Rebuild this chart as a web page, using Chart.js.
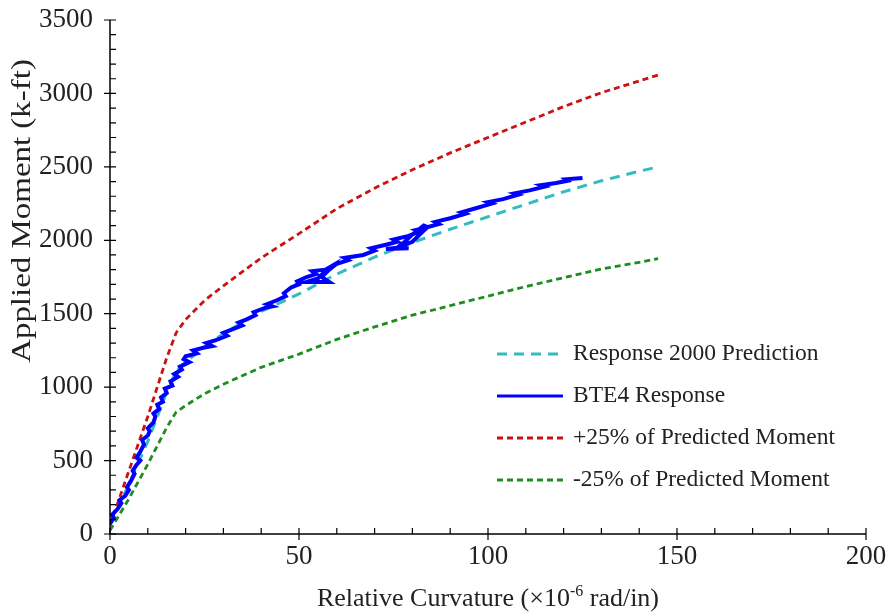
<!DOCTYPE html>
<html>
<head>
<meta charset="utf-8">
<script src="https://cdn.jsdelivr.net/npm/chart.js@4.4.1/dist/chart.umd.min.js"></script>
<style>
  html, body { margin: 0; padding: 0; background: #fff; }
  #wrap { width: 889px; height: 616px; position: relative; }
</style>
</head>
<body>
<div id="wrap"><canvas id="momentChart"></canvas></div>
<script>
// Curvature values (x10^-6 rad/in) for the predicted curves
var predCurv = [0, 5, 10, 15, 17.5, 20, 25, 30, 40, 50, 60, 70, 80, 90, 100, 110, 120, 130, 140, 145];
// Response 2000 prediction, moment in k-ft
var predMoment = [60, 340, 630, 965, 1110, 1170, 1275, 1365, 1515, 1635, 1770, 1885, 1985, 2075, 2160, 2245, 2330, 2405, 2470, 2500];
// +25% and -25% of predicted moment
var upperMoment = [60, 430, 800, 1200, 1370, 1460, 1590, 1690, 1880, 2045, 2215, 2355, 2480, 2595, 2700, 2805, 2910, 3005, 3085, 3125];
var lowerMoment = [25, 240, 475, 725, 830, 875, 955, 1020, 1135, 1225, 1325, 1410, 1490, 1555, 1620, 1685, 1745, 1805, 1850, 1875];

// Measured BTE4 response (curvature, moment)
var bteCurv = [0, 1, 0.5, 2, 3, 2.5, 4, 5, 4.5, 5.5, 6.5, 6, 7, 8, 7, 8, 9, 8.5, 10, 10.5, 10, 11.5, 12, 11.5, 13, 12.5, 14, 13.5, 15, 14.5, 16.5, 16, 18, 17, 19, 18.5, 21, 19.5, 20, 23, 22, 25, 27, 25.5, 28,
    31, 30, 33, 35, 34, 36, 38.5, 38, 41, 43, 41.5, 44, 46.5, 46, 48, 50, 49.5, 52, 54.5, 53.5, 57, 58, 55, 52, 58, 56, 58, 60, 63, 62, 67, 70, 69, 73, 76, 75, 79, 82, 81, 84, 83,
    80, 78, 76, 73, 79, 76, 80, 82, 84, 87, 86, 90, 94, 93, 97, 101, 100, 104, 108, 107, 111, 115, 114, 118, 121, 120.5, 125];
var bteMoment = [70, 110, 130, 170, 210, 230, 260, 300, 320, 360, 410, 430, 470, 500, 520, 560, 610, 640, 670, 700, 720, 760, 800, 820, 850, 880, 900, 930, 960, 990, 1010, 1040, 1070, 1090, 1120, 1140, 1170, 1190, 1210, 1230, 1250, 1270, 1280, 1300, 1320,
    1350, 1370, 1400, 1420, 1440, 1460, 1490, 1510, 1540, 1550, 1565, 1590, 1620, 1640, 1680, 1700, 1720, 1750, 1770, 1790, 1800, 1815, 1740, 1716, 1716, 1750, 1800, 1840, 1865, 1880, 1900, 1930, 1945, 1970, 1990, 2005, 2030, 2060, 2070, 2090, 2100,
    2040, 1990, 1950, 1940, 1945, 1950, 1990, 2040, 2090, 2110, 2125, 2150, 2180, 2190, 2220, 2250, 2260, 2280, 2310, 2320, 2340, 2365, 2375, 2390, 2405, 2415, 2424];

var xTicks = [0, 50, 100, 150, 200];
var yTicks = [0, 500, 1000, 1500, 2000, 2500, 3000, 3500];

var seriesNames = ["Response 2000 Prediction", "BTE4 Response", "+25% of Predicted Moment", "-25% of Predicted Moment"];

function toPoints(xs, ys) {
    return xs.map(function (x, i) { return { x: x, y: ys[i] }; });
}

var serif = "'Liberation Serif', 'Times New Roman', serif";

// Draws the axis lines, tick marks, axis titles and the legend box inside the plot
var decorations = {
    id: "decorations",
    afterDraw: function (chart) {
        var ctx = chart.ctx;
        var xs = chart.scales.x, ys = chart.scales.y;
        var a = chart.chartArea;
        ctx.save();
        ctx.strokeStyle = "#000";
        ctx.lineWidth = 1.5;
        ctx.beginPath();
        ctx.moveTo(a.left, a.top);
        ctx.lineTo(a.left, a.bottom);
        ctx.lineTo(a.right, a.bottom);
        ctx.stroke();

        ctx.lineWidth = 1.2;
        ctx.beginPath();
        for (var v = 0; v <= 200; v += 10) {
            var px = xs.getPixelForValue(v);
            var major = v % 50 === 0;
            ctx.moveTo(px, a.bottom + (major ? 6 : 0));
            ctx.lineTo(px, a.bottom - 6);
        }
        for (var m = 0; m <= 3500; m += 100) {
            var py = ys.getPixelForValue(m);
            var majorY = m % 500 === 0;
            ctx.moveTo(a.left - (majorY ? 6 : 0), py);
            ctx.lineTo(a.left + 6, py);
        }
        ctx.stroke();

        // x title with superscript
        ctx.fillStyle = "#222";
        ctx.textBaseline = "alphabetic";
        var big = "26px " + serif, small = "16px " + serif;
        var p1 = "Relative Curvature (\u00d710", p2 = "-6", p3 = " rad/in)";
        ctx.font = big;
        var w1 = ctx.measureText(p1).width, w3 = ctx.measureText(p3).width;
        ctx.font = small;
        var w2 = ctx.measureText(p2).width;
        var tx = (a.left + a.right) / 2 - (w1 + w2 + w3) / 2;
        var ty = 606;
        ctx.textAlign = "left";
        ctx.font = big;
        ctx.fillText(p1, tx, ty);
        ctx.font = small;
        ctx.fillText(p2, tx + w1, ty - 10);
        ctx.font = big;
        ctx.fillText(p3, tx + w1 + w2, ty);

        // y title (stretched along its length like the original)
        ctx.save();
        ctx.translate(30, 211);
        ctx.rotate(-Math.PI / 2);
        ctx.scale(1.22, 1);
        ctx.textAlign = "center";
        ctx.font = "27px " + serif;
        ctx.fillText("Applied Moment (k-ft)", 0, 0);
        ctx.restore();

        // legend
        var rows = [354, 396, 438, 480];
        chart.data.datasets.forEach(function (ds, i) {
            var y = rows[i];
            ctx.strokeStyle = ds.borderColor;
            ctx.lineWidth = Math.min(ds.borderWidth, 3);
            ctx.setLineDash(ds.borderDash || []);
            ctx.beginPath();
            ctx.moveTo(497, y);
            ctx.lineTo(563, y);
            ctx.stroke();
            ctx.setLineDash([]);
            ctx.fillStyle = "#222";
            ctx.font = "23.5px " + serif;
            ctx.textAlign = "left";
            ctx.textBaseline = "middle";
            ctx.fillText(ds.label, 573, y);
        });
        ctx.restore();
    }
};

document.addEventListener("DOMContentLoaded", function () {
    var ctx = document.getElementById("momentChart").getContext("2d");

    new Chart(ctx, {
        type: "scatter",
        data: {
            datasets: [
                {
                    label: seriesNames[0],
                    data: toPoints(predCurv, predMoment),
                    showLine: true,
                    borderColor: "#33bcc0",
                    borderWidth: 3,
                    borderDash: [10, 7],
                    pointRadius: 0,
                    order: 3,
                },
                {
                    label: seriesNames[1],
                    data: toPoints(bteCurv, bteMoment),
                    showLine: true,
                    borderColor: "#0000ff",
                    borderWidth: 4,
                    pointRadius: 0,
                    order: 1,
                },
                {
                    label: seriesNames[2],
                    data: toPoints(predCurv, upperMoment),
                    showLine: true,
                    borderColor: "#cc1111",
                    borderWidth: 2.8,
                    borderDash: [6, 4],
                    pointRadius: 0,
                    order: 2,
                },
                {
                    label: seriesNames[3],
                    data: toPoints(predCurv, lowerMoment),
                    showLine: true,
                    borderColor: "#1e8c1e",
                    borderWidth: 2.8,
                    borderDash: [6, 4],
                    pointRadius: 0,
                    order: 2,
                },
            ],
        },
        options: {
            responsive: true,
            maintainAspectRatio: false,
            animation: false,
            layout: { padding: { top: 20, right: 23, left: 0, bottom: 0 } },
            plugins: {
                legend: { display: false },
                tooltip: { enabled: false },
            },
            scales: {
                x: {
                    type: "linear",
                    min: 0,
                    max: 200,
                    afterBuildTicks: function (s) { s.ticks = xTicks.map(function (v) { return { value: v }; }); },
                    afterFit: function (s) { s.height = 82; s.paddingLeft = 0; s.paddingRight = 0; },
                    grid: { display: false, drawTicks: false },
                    border: { display: false },
                    ticks: {
                        padding: 7,
                        color: "#222",
                        font: { family: serif, size: 27 },
                        callback: function (v) { return String(v); },
                    },
                },
                y: {
                    type: "linear",
                    min: 0,
                    max: 3500,
                    afterBuildTicks: function (s) { s.ticks = yTicks.map(function (v) { return { value: v }; }); },
                    afterFit: function (s) { s.width = 110; s.paddingTop = 0; s.paddingBottom = 0; },
                    grid: { display: false, drawTicks: false },
                    border: { display: false },
                    ticks: {
                        padding: 17,
                        color: "#222",
                        font: { family: serif, size: 27 },
                        callback: function (v) { return String(v); },
                    },
                },
            },
        },
        plugins: [decorations],
    });
});
</script>
</body>
</html>
